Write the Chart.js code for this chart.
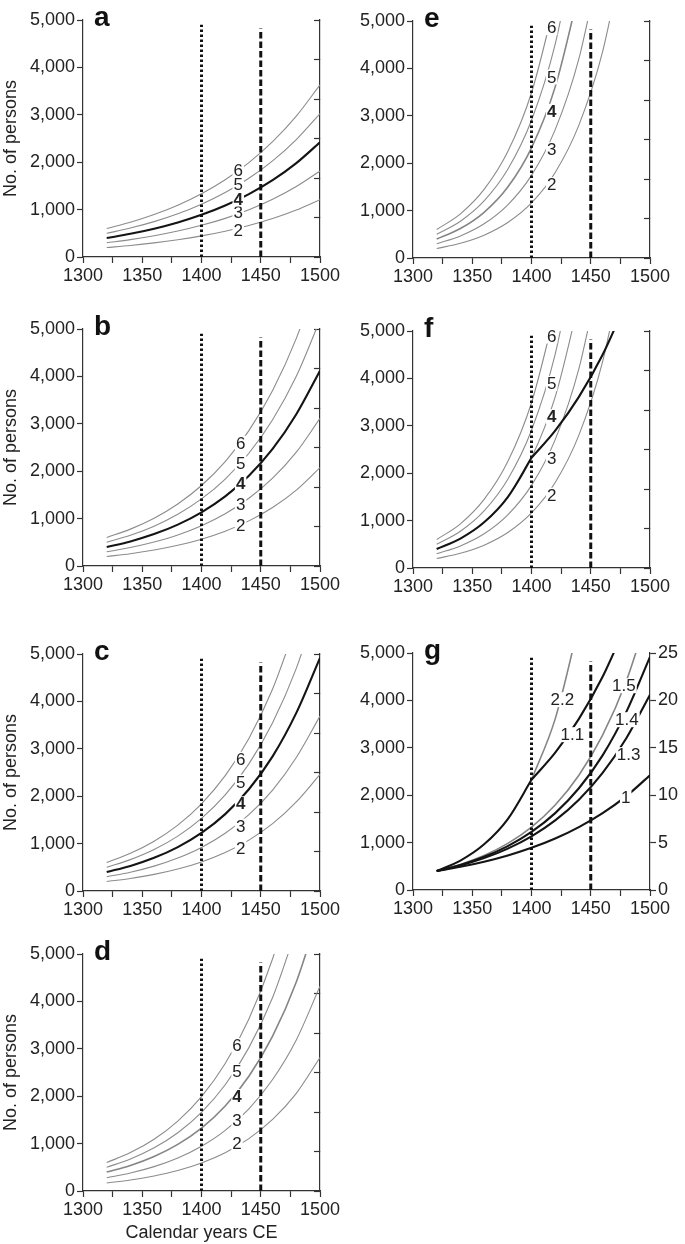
<!DOCTYPE html>
<html lang="en">
<head>
    <meta charset="UTF-8">
    <title>Population growth scenarios</title>
    <script src="https://cdn.jsdelivr.net/npm/chart.js"></script>
    <style>
        body { margin: 0; background: #fff; }
        #wrap { position: relative; width: 685px; height: 1244px; }
        canvas { position: absolute; }
    </style>
</head>
<body>
    <div id="wrap">
        <canvas id="panelA" width="344" height="300" style="left:0;top:0"></canvas>
        <canvas id="panelB" width="344" height="300" style="left:0;top:309px"></canvas>
        <canvas id="panelC" width="344" height="300" style="left:0;top:634px"></canvas>
        <canvas id="panelD" width="344" height="310" style="left:0;top:934px"></canvas>
        <canvas id="panelE" width="344" height="300" style="left:330px;top:1px"></canvas>
        <canvas id="panelF" width="344" height="300" style="left:330px;top:311px"></canvas>
        <canvas id="panelG" width="355" height="300" style="left:330px;top:633px"></canvas>
    </div>

    <script>
        // sample years shared by every curve
        const years = [1320, 1340, 1360, 1380, 1400, 1420, 1440, 1460, 1480, 1500];

        // a: 1% per year
        const a2 = [200, 244, 298, 364, 445, 544, 664, 811, 991, 1210];
        const a3 = [300, 366, 448, 547, 668, 815, 996, 1217, 1486, 1815];
        const a4 = [400, 489, 597, 729, 890, 1087, 1328, 1622, 1981, 2420];
        const a5 = [500, 611, 746, 911, 1113, 1359, 1660, 2028, 2477, 3025];
        const a6 = [600, 733, 895, 1093, 1335, 1631, 1992, 2433, 2972, 3630];

        // b: 1.3% per year
        const b2 = [200, 259, 336, 436, 566, 734, 952, 1234, 1601, 2076];
        const b3 = [300, 389, 505, 654, 849, 1101, 1428, 1852, 2401, 3114];
        const b4 = [400, 519, 673, 873, 1132, 1468, 1904, 2469, 3202, 4120];
        const b5 = [500, 648, 841, 1091, 1415, 1835, 2379, 3086, 4002, 5190];
        const b6 = [600, 778, 1009, 1309, 1698, 2202, 2855, 3703, 4803, 6229];

        // c: 1.4% per year
        const c2 = [200, 265, 350, 463, 613, 811, 1073, 1420, 1879, 2460];
        const c3 = [300, 397, 525, 695, 919, 1217, 1610, 2130, 2818, 3690];
        const c4 = [400, 529, 700, 927, 1226, 1622, 2146, 2840, 3757, 4920];
        const c5 = [500, 662, 875, 1158, 1532, 2028, 2683, 3550, 4697, 6215];
        const c6 = [600, 794, 1050, 1390, 1839, 2433, 3219, 4260, 5636, null];

        // d: 1.5% per year
        const d2 = [170, 232, 317, 433, 592, 809, 1105, 1509, 2061, 2816];
        const d3 = [280, 379, 514, 697, 945, 1280, 1735, 2352, 3187, 4320];
        const d4 = [400, 540, 729, 984, 1328, 1793, 2420, 3266, 4409, 5952];
        const d5 = [500, 675, 911, 1230, 1660, 2241, 3025, 4083, 5512, null];
        const d6 = [600, 810, 1093, 1476, 1992, 2689, 3630, 4900, 6614, null];

        // e: 2.2% per year (f reuses these grey curves)
        const e2 = [200, 311, 482, 749, 1162, 1805, 2803, 4352, 6757, null];
        const e3 = [300, 466, 723, 1123, 1744, 2708, 4204, 6527, null, null];
        const e4 = [400, 621, 964, 1497, 2325, 3610, 5605, null, null, null];
        const e5 = [500, 776, 1205, 1872, 2906, 4513, 7007, null, null, null];
        const e6 = [600, 932, 1447, 2246, 3487, 5415, null, null, null, null];

        // f: 2.2% until 1400, then 1.1%
        const f4Early = [400, 621, 964, 1497, 2325, null, null, null, null, null];
        const f4Late = [null, null, null, null, 2325, 2897, 3610, 4498, 5605, null];

        // g: 2.2% continued after 1400
        const g22Late = [null, null, null, null, 2325, 3610, 5605, null, null, null];

        // vertical markers
        const markerYears = [1400, 1450];
        const markerTops = [4900, 4820];

        // curve labels
        const curveNames = ['2', '3', '4', '5', '6'];
        const labelYearA = 1431, labelValA = [570, 943, 1224, 1540, 1835];
        const labelYearB = 1433, labelValB = [860, 1310, 1737, 2168, 2590];
        const labelYearC = 1433, labelValC = [900, 1370, 1840, 2300, 2780];
        const labelYearD = 1430, labelValD = [1000, 1485, 1995, 2520, 3070];
        const labelYearE = 1417, labelValE = [1548, 2286, 3095, 3819, 4860];
        const labelYearF = 1417, labelValF = [1536, 2311, 3190, 3895, 4894];
        const rateNames = ['2.2', '1.1', '1.5', '1.4', '1.3', '1'];
        const rateYears = [1426, 1434.5, 1478, 1480.5, 1482, 1479.5];
        const rateVals = [4015, 3277, 4310, 3593, 2856, 1954];

        const GREY = '#8c8c8c';
        const BLACK = '#141414';
        const AXIS = '#333';
        const FONT = '"Liberation Sans", Arial, Helvetica, sans-serif';

        Chart.defaults.font.family = FONT;
        Chart.defaults.font.size = 18;
        Chart.defaults.color = '#222';

        const toPoints = vals => years.map((x, i) => ({ x, y: vals[i] }));
        const thin = vals => ({ vals, color: GREY, width: 1.1 });
        const greyMid = vals => ({ vals, color: '#858585', width: 1.6 });
        const bold = vals => ({ vals, color: BLACK, width: 2.1 });

        function curveLabelList(year, vals) {
            return curveNames.map((t, i) => ({ text: t, x: year, y: vals[i], bold: t === '4' }));
        }

        // text labels with a white box behind them, plus the panel letter
        function labelPlugin(items, letter) {
            return {
                id: 'curveLabels',
                afterDatasetsDraw(chart) {
                    const { ctx, scales: { x, y } } = chart;
                    ctx.save();
                    items.forEach(item => {
                        ctx.font = (item.bold ? 'bold ' : '') + '17px ' + FONT;
                        const px = x.getPixelForValue(item.x);
                        const py = y.getPixelForValue(item.y);
                        const w = ctx.measureText(item.text).width;
                        ctx.fillStyle = '#fff';
                        ctx.fillRect(px - w / 2 - 1, py - 7.5, w + 2, 15);
                        ctx.fillStyle = '#222';
                        ctx.textAlign = 'center';
                        ctx.textBaseline = 'middle';
                        ctx.fillText(item.text, px, py + 1);
                    });
                    ctx.font = 'bold 28px ' + FONT;
                    ctx.textAlign = 'left';
                    ctx.textBaseline = 'alphabetic';
                    ctx.fillStyle = '#111';
                    ctx.fillText(letter, chart.chartArea.left + 11, chart.chartArea.top + 6);
                    ctx.restore();
                }
            };
        }

        function makePanel(id, cfg) {
            const datasets = [];
            markerYears.forEach((yr, i) => {
                datasets.push({
                    data: [{ x: yr, y: 0 }, { x: yr, y: markerTops[i] }],
                    borderColor: '#111',
                    borderWidth: 3,
                    borderDash: i === 0 ? [2.5, 2.5] : [6.5, 3],
                    tension: 0,
                    cubicInterpolationMode: 'default',
                    pointRadius: 0
                });
            });
            cfg.curves.forEach(c => {
                datasets.push({
                    data: toPoints(c.vals),
                    borderColor: c.color,
                    borderWidth: c.width,
                    cubicInterpolationMode: 'monotone',
                    pointRadius: 0,
                    fill: false
                });
            });

            const tickGrid = len => ({
                drawOnChartArea: false,
                tickLength: len,
                tickColor: AXIS,
                tickWidth: 1.2
            });
            const border = { color: AXIS, width: 1.2 };

            new Chart(document.getElementById(id), {
                type: 'line',
                data: { datasets },
                options: {
                    responsive: false,
                    animation: false,
                    events: [],
                    layout: { padding: { top: 20, left: 0, right: 0, bottom: 0 } },
                    plugins: { legend: { display: false }, tooltip: { enabled: false } },
                    scales: {
                        x: {
                            type: 'linear', min: 1300, max: 1500,
                            ticks: {
                                stepSize: 25, autoSkip: false, maxRotation: 0, padding: 2,
                                callback: v => v % 50 === 0 ? String(v) : ''
                            },
                            grid: tickGrid(6),
                            border,
                            title: { display: !!cfg.xTitle, text: 'Calendar years CE', font: { size: 18 }, padding: 0 },
                            afterFit: s => { s.height = cfg.xTitle ? 53 : 43; }
                        },
                        y: {
                            min: 0, max: 5000,
                            ticks: {
                                stepSize: 500, padding: 2,
                                callback: v => v % 1000 === 0 ? v.toLocaleString('en-US') : ''
                            },
                            grid: tickGrid(6),
                            border,
                            title: { display: !!cfg.yTitle, text: 'No. of persons', font: { size: 18 }, padding: 0 },
                            afterFit: s => { s.width = 83; }
                        },
                        y2: {
                            position: 'right',
                            min: 0, max: cfg.density ? 25 : 6,
                            ticks: {
                                display: !!cfg.density,
                                stepSize: cfg.density ? 2.5 : 1,
                                padding: 2,
                                callback: v => v % 5 === 0 ? String(v) : ''
                            },
                            grid: tickGrid(cfg.density ? 6 : -6),
                            border,
                            afterFit: s => { s.width = cfg.density ? 35 : 24; }
                        }
                    }
                },
                plugins: [labelPlugin(cfg.labels, cfg.letter)]
            });
        }

        makePanel('panelA', {
            letter: 'a', yTitle: true,
            curves: [bold(a4), thin(a2), thin(a3), thin(a5), thin(a6)],
            labels: curveLabelList(labelYearA, labelValA)
        });
        makePanel('panelB', {
            letter: 'b', yTitle: true,
            curves: [bold(b4), thin(b2), thin(b3), thin(b5), thin(b6)],
            labels: curveLabelList(labelYearB, labelValB)
        });
        makePanel('panelC', {
            letter: 'c', yTitle: true,
            curves: [bold(c4), thin(c2), thin(c3), thin(c5), thin(c6)],
            labels: curveLabelList(labelYearC, labelValC)
        });
        makePanel('panelD', {
            letter: 'd', yTitle: true, xTitle: true,
            curves: [greyMid(d4), thin(d2), thin(d3), thin(d5), thin(d6)],
            labels: curveLabelList(labelYearD, labelValD)
        });
        makePanel('panelE', {
            letter: 'e',
            curves: [greyMid(e4), thin(e2), thin(e3), thin(e5), thin(e6)],
            labels: curveLabelList(labelYearE, labelValE)
        });
        makePanel('panelF', {
            letter: 'f',
            curves: [bold(f4Early), bold(f4Late), thin(e2), thin(e3), thin(e4), thin(e5), thin(e6)],
            labels: curveLabelList(labelYearF, labelValF)
        });
        makePanel('panelG', {
            letter: 'g', density: true,
            curves: [bold(f4Early), bold(f4Late), bold(a4), bold(b4), bold(c4), greyMid(d4), greyMid(g22Late)],
            labels: rateNames.map((t, i) => ({ text: t, x: rateYears[i], y: rateVals[i] }))
        });
    </script>
</body>
</html>
